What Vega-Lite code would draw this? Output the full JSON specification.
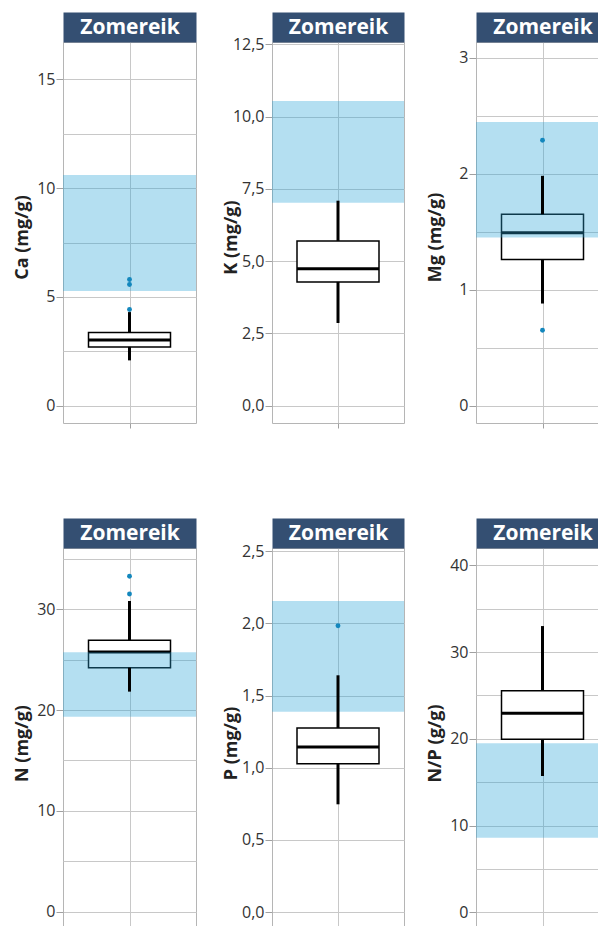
{
  "$schema": "https://vega.github.io/schema/vega-lite/v6.json",
  "background": "#ffffff",
  "padding": {"left": 12, "top": 15, "right": 0, "bottom": 0},
  "config": {
    "font": "Open Sans",
    "view": {"stroke": "#b5b5b5", "strokeWidth": 1},
    "axis": {
      "labelFont": "Open Sans", "labelFontSize": 16, "labelColor": "#333333",
      "titleFont": "Open Sans", "titleFontSize": 18, "titleFontWeight": "bold", "titleColor": "#222222",
      "gridColor": "#c8c8c8", "gridWidth": 1, "tickColor": "#a0a0a0", "domain": false
    },
    "axisY": {"tickSize": 7, "labelPadding": 1, "titleX": -41, "titleY": 195, "titleBaseline": "middle", "titleAlign": "center", "titleAngle": 270}
  },
  "datasets": {
    "stats": [
      {"el": "Ca", "species": "Zomereik", "lower": 2.08, "q1": 2.70, "median": 3.02, "q3": 3.36, "upper": 4.30, "lo": 5.27, "hi": 10.60},
      {"el": "K", "species": "Zomereik", "lower": 2.86, "q1": 4.28, "median": 4.74, "q3": 5.70, "upper": 7.09, "lo": 7.02, "hi": 10.54},
      {"el": "Mg", "species": "Zomereik", "lower": 0.881, "q1": 1.261, "median": 1.491, "q3": 1.652, "upper": 1.983, "lo": 1.451, "hi": 2.447},
      {"el": "N", "species": "Zomereik", "lower": 21.83, "q1": 24.21, "median": 25.76, "q3": 26.92, "upper": 30.82, "lo": 19.35, "hi": 25.73},
      {"el": "P", "species": "Zomereik", "lower": 0.747, "q1": 1.028, "median": 1.144, "q3": 1.275, "upper": 1.640, "lo": 1.388, "hi": 2.154},
      {"el": "NP", "species": "Zomereik", "lower": 15.71, "q1": 19.94, "median": 22.94, "q3": 25.55, "upper": 33.0, "lo": 8.60, "hi": 19.48}
    ],
    "outliers": [
      {"el": "Ca", "species": "Zomereik", "value": 4.42},
      {"el": "Ca", "species": "Zomereik", "value": 5.57},
      {"el": "Ca", "species": "Zomereik", "value": 5.80},
      {"el": "Mg", "species": "Zomereik", "value": 2.29},
      {"el": "Mg", "species": "Zomereik", "value": 0.65},
      {"el": "N", "species": "Zomereik", "value": 33.27},
      {"el": "N", "species": "Zomereik", "value": 31.52},
      {"el": "P", "species": "Zomereik", "value": 1.983}
    ]
  },
  "vconcat": [
    {
      "hconcat": [
        {
          "hconcat": [
            {"width": 133, "height": 381, "resolve": {"axis": {"x": "independent"}},
             "layer": [
               {"data": {"name": "stats"}, "transform": [{"filter": "datum.el === 'Ca'"}],
                "mark": {"type": "bar", "size": 82, "fill": "#ffffff", "stroke": "#000000", "strokeWidth": 1.5},
                "encoding": {
                  "x": {"field": "species", "type": "nominal", "scale": {"type": "point"}, "axis": {"orient": "bottom", "title": null, "labels": false, "tickSize": 5, "grid": true}},
                  "y": {"field": "q1", "type": "quantitative", "scale": {"domain": [-0.8, 16.72], "nice": false, "zero": false},
                        "axis": {"title": "Ca (mg/g)", "values": [0, 2.5, 5, 7.5, 10, 12.5, 15], "labelExpr": "datum.value % 5 === 0 ? format(datum.value, 'd') : ''", "tickOpacity": {"condition": {"test": "datum.value % 5 === 0", "value": 1}, "value": 0}}},
                  "y2": {"field": "q3"}}},
               {"data": {"name": "stats"}, "transform": [{"filter": "datum.el === 'Ca'"}],
                "mark": {"type": "tick", "size": 82, "thickness": 3, "color": "#000000", "opacity": 1},
                "encoding": {"x": {"field": "species", "type": "nominal", "axis": null}, "y": {"field": "median", "type": "quantitative", "title": "Ca (mg/g)"}}},
               {"data": {"name": "stats"}, "transform": [{"filter": "datum.el === 'Ca'"}],
                "mark": {"type": "rect", "fill": "#29a3d6", "opacity": 0.35},
                "encoding": {"y": {"field": "lo", "type": "quantitative", "title": "Ca (mg/g)"}, "y2": {"field": "hi"}}},
               {"data": {"name": "stats"}, "transform": [{"filter": "datum.el === 'Ca'"}],
                "mark": {"type": "rule", "strokeWidth": 3, "color": "#000000"},
                "encoding": {"x": {"field": "species", "type": "nominal", "axis": {"orient": "top", "labels": false, "ticks": false, "grid": false, "domain": true, "domainColor": "#344f72", "domainWidth": 30, "domainCap": "butt", "offset": 15, "title": "Zomereik", "titleFont": "Open Sans", "titleFontSize": 21, "titleFontWeight": "bold", "titleColor": "#ffffff", "titleY": 0, "titleBaseline": "middle", "titleAngle": 0, "titleAlign": "center"}},
                             "y": {"field": "lower", "type": "quantitative", "title": "Ca (mg/g)"}, "y2": {"field": "q1"}}},
               {"data": {"name": "stats"}, "transform": [{"filter": "datum.el === 'Ca'"}],
                "mark": {"type": "rule", "strokeWidth": 3, "color": "#000000"},
                "encoding": {"x": {"field": "species", "type": "nominal", "axis": null}, "y": {"field": "q3", "type": "quantitative", "title": "Ca (mg/g)"}, "y2": {"field": "upper"}}},
               {"data": {"name": "outliers"}, "transform": [{"filter": "datum.el === 'Ca'"}],
                "mark": {"type": "circle", "size": 24, "color": "#1387bd", "opacity": 1},
                "encoding": {"x": {"field": "species", "type": "nominal", "axis": null}, "y": {"field": "value", "type": "quantitative", "title": "Ca (mg/g)"}}}
             ]},
            {"width": 132, "height": 381, "resolve": {"axis": {"x": "independent"}},
             "layer": [
               {"data": {"name": "stats"}, "transform": [{"filter": "datum.el === 'K'"}],
                "mark": {"type": "bar", "size": 82, "fill": "#ffffff", "stroke": "#000000", "strokeWidth": 1.5},
                "encoding": {
                  "x": {"field": "species", "type": "nominal", "scale": {"type": "point"}, "axis": {"orient": "bottom", "title": null, "labels": false, "tickSize": 5, "grid": true}},
                  "y": {"field": "q1", "type": "quantitative", "scale": {"domain": [-0.6, 12.58], "nice": false, "zero": false},
                        "axis": {"title": "K (mg/g)", "values": [0, 1.25, 2.5, 3.75, 5, 6.25, 7.5, 8.75, 10, 11.25, 12.5], "labelExpr": "datum.value % 2.5 === 0 ? replace(format(datum.value, '.1f'), '.', ',') : ''", "tickOpacity": {"condition": {"test": "datum.value % 2.5 === 0", "value": 1}, "value": 0}}},
                  "y2": {"field": "q3"}}},
               {"data": {"name": "stats"}, "transform": [{"filter": "datum.el === 'K'"}],
                "mark": {"type": "tick", "size": 82, "thickness": 3, "color": "#000000", "opacity": 1},
                "encoding": {"x": {"field": "species", "type": "nominal", "axis": null}, "y": {"field": "median", "type": "quantitative", "title": "K (mg/g)"}}},
               {"data": {"name": "stats"}, "transform": [{"filter": "datum.el === 'K'"}],
                "mark": {"type": "rect", "fill": "#29a3d6", "opacity": 0.35},
                "encoding": {"y": {"field": "lo", "type": "quantitative", "title": "K (mg/g)"}, "y2": {"field": "hi"}}},
               {"data": {"name": "stats"}, "transform": [{"filter": "datum.el === 'K'"}],
                "mark": {"type": "rule", "strokeWidth": 3, "color": "#000000"},
                "encoding": {"x": {"field": "species", "type": "nominal", "axis": {"orient": "top", "labels": false, "ticks": false, "grid": false, "domain": true, "domainColor": "#344f72", "domainWidth": 30, "domainCap": "butt", "offset": 15, "title": "Zomereik", "titleFont": "Open Sans", "titleFontSize": 21, "titleFontWeight": "bold", "titleColor": "#ffffff", "titleY": 0, "titleBaseline": "middle", "titleAngle": 0, "titleAlign": "center"}},
                             "y": {"field": "lower", "type": "quantitative", "title": "K (mg/g)"}, "y2": {"field": "q1"}}},
               {"data": {"name": "stats"}, "transform": [{"filter": "datum.el === 'K'"}],
                "mark": {"type": "rule", "strokeWidth": 3, "color": "#000000"},
                "encoding": {"x": {"field": "species", "type": "nominal", "axis": null}, "y": {"field": "q3", "type": "quantitative", "title": "K (mg/g)"}, "y2": {"field": "upper"}}}
             ]}
          ],
          "spacing": 24
        },
        {"width": 133, "height": 381, "resolve": {"axis": {"x": "independent"}},
         "layer": [
           {"data": {"name": "stats"}, "transform": [{"filter": "datum.el === 'Mg'"}],
            "mark": {"type": "bar", "size": 82, "fill": "#ffffff", "stroke": "#000000", "strokeWidth": 1.5},
            "encoding": {
              "x": {"field": "species", "type": "nominal", "scale": {"type": "point"}, "axis": {"orient": "bottom", "title": null, "labels": false, "tickSize": 5, "grid": true}},
              "y": {"field": "q1", "type": "quantitative", "scale": {"domain": [-0.15, 3.138], "nice": false, "zero": false},
                    "axis": {"title": "Mg (mg/g)", "values": [0, 0.5, 1, 1.5, 2, 2.5, 3], "labelExpr": "datum.value % 1 === 0 ? format(datum.value, 'd') : ''", "tickOpacity": {"condition": {"test": "datum.value % 1 === 0", "value": 1}, "value": 0}}},
              "y2": {"field": "q3"}}},
           {"data": {"name": "stats"}, "transform": [{"filter": "datum.el === 'Mg'"}],
            "mark": {"type": "tick", "size": 82, "thickness": 3, "color": "#000000", "opacity": 1},
            "encoding": {"x": {"field": "species", "type": "nominal", "axis": null}, "y": {"field": "median", "type": "quantitative", "title": "Mg (mg/g)"}}},
           {"data": {"name": "stats"}, "transform": [{"filter": "datum.el === 'Mg'"}],
            "mark": {"type": "rect", "fill": "#29a3d6", "opacity": 0.35},
            "encoding": {"y": {"field": "lo", "type": "quantitative", "title": "Mg (mg/g)"}, "y2": {"field": "hi"}}},
           {"data": {"name": "stats"}, "transform": [{"filter": "datum.el === 'Mg'"}],
            "mark": {"type": "rule", "strokeWidth": 3, "color": "#000000"},
            "encoding": {"x": {"field": "species", "type": "nominal", "axis": {"orient": "top", "labels": false, "ticks": false, "grid": false, "domain": true, "domainColor": "#344f72", "domainWidth": 30, "domainCap": "butt", "offset": 15, "title": "Zomereik", "titleFont": "Open Sans", "titleFontSize": 21, "titleFontWeight": "bold", "titleColor": "#ffffff", "titleY": 0, "titleBaseline": "middle", "titleAngle": 0, "titleAlign": "center"}},
                         "y": {"field": "lower", "type": "quantitative", "title": "Mg (mg/g)"}, "y2": {"field": "q1"}}},
           {"data": {"name": "stats"}, "transform": [{"filter": "datum.el === 'Mg'"}],
            "mark": {"type": "rule", "strokeWidth": 3, "color": "#000000"},
            "encoding": {"x": {"field": "species", "type": "nominal", "axis": null}, "y": {"field": "q3", "type": "quantitative", "title": "Mg (mg/g)"}, "y2": {"field": "upper"}}},
           {"data": {"name": "outliers"}, "transform": [{"filter": "datum.el === 'Mg'"}],
            "mark": {"type": "circle", "size": 24, "color": "#1387bd", "opacity": 1},
            "encoding": {"x": {"field": "species", "type": "nominal", "axis": null}, "y": {"field": "value", "type": "quantitative", "title": "Mg (mg/g)"}}}
         ]}
      ],
      "spacing": 20
    },
    {
      "hconcat": [
        {
          "hconcat": [
            {"width": 133, "height": 381, "resolve": {"axis": {"x": "independent"}},
             "layer": [
               {"data": {"name": "stats"}, "transform": [{"filter": "datum.el === 'N'"}],
                "mark": {"type": "bar", "size": 82, "fill": "#ffffff", "stroke": "#000000", "strokeWidth": 1.5},
                "encoding": {
                  "x": {"field": "species", "type": "nominal", "scale": {"type": "point"}, "axis": {"orient": "bottom", "title": null, "labels": false, "tickSize": 5, "grid": true}},
                  "y": {"field": "q1", "type": "quantitative", "scale": {"domain": [-1.72, 36.08], "nice": false, "zero": false},
                        "axis": {"title": "N (mg/g)", "values": [0, 5, 10, 15, 20, 25, 30, 35], "labelExpr": "datum.value % 10 === 0 ? format(datum.value, 'd') : ''", "tickOpacity": {"condition": {"test": "datum.value % 10 === 0", "value": 1}, "value": 0}}},
                  "y2": {"field": "q3"}}},
               {"data": {"name": "stats"}, "transform": [{"filter": "datum.el === 'N'"}],
                "mark": {"type": "tick", "size": 82, "thickness": 3, "color": "#000000", "opacity": 1},
                "encoding": {"x": {"field": "species", "type": "nominal", "axis": null}, "y": {"field": "median", "type": "quantitative", "title": "N (mg/g)"}}},
               {"data": {"name": "stats"}, "transform": [{"filter": "datum.el === 'N'"}],
                "mark": {"type": "rect", "fill": "#29a3d6", "opacity": 0.35},
                "encoding": {"y": {"field": "lo", "type": "quantitative", "title": "N (mg/g)"}, "y2": {"field": "hi"}}},
               {"data": {"name": "stats"}, "transform": [{"filter": "datum.el === 'N'"}],
                "mark": {"type": "rule", "strokeWidth": 3, "color": "#000000"},
                "encoding": {"x": {"field": "species", "type": "nominal", "axis": {"orient": "top", "labels": false, "ticks": false, "grid": false, "domain": true, "domainColor": "#344f72", "domainWidth": 30, "domainCap": "butt", "offset": 15, "title": "Zomereik", "titleFont": "Open Sans", "titleFontSize": 21, "titleFontWeight": "bold", "titleColor": "#ffffff", "titleY": 0, "titleBaseline": "middle", "titleAngle": 0, "titleAlign": "center"}},
                             "y": {"field": "lower", "type": "quantitative", "title": "N (mg/g)"}, "y2": {"field": "q1"}}},
               {"data": {"name": "stats"}, "transform": [{"filter": "datum.el === 'N'"}],
                "mark": {"type": "rule", "strokeWidth": 3, "color": "#000000"},
                "encoding": {"x": {"field": "species", "type": "nominal", "axis": null}, "y": {"field": "q3", "type": "quantitative", "title": "N (mg/g)"}, "y2": {"field": "upper"}}},
               {"data": {"name": "outliers"}, "transform": [{"filter": "datum.el === 'N'"}],
                "mark": {"type": "circle", "size": 24, "color": "#1387bd", "opacity": 1},
                "encoding": {"x": {"field": "species", "type": "nominal", "axis": null}, "y": {"field": "value", "type": "quantitative", "title": "N (mg/g)"}}}
             ]},
            {"width": 132, "height": 381, "resolve": {"axis": {"x": "independent"}},
             "layer": [
               {"data": {"name": "stats"}, "transform": [{"filter": "datum.el === 'P'"}],
                "mark": {"type": "bar", "size": 82, "fill": "#ffffff", "stroke": "#000000", "strokeWidth": 1.5},
                "encoding": {
                  "x": {"field": "species", "type": "nominal", "scale": {"type": "point"}, "axis": {"orient": "bottom", "title": null, "labels": false, "tickSize": 5, "grid": true}},
                  "y": {"field": "q1", "type": "quantitative", "scale": {"domain": [-0.116, 2.521], "nice": false, "zero": false},
                        "axis": {"title": "P (mg/g)", "values": [0, 0.25, 0.5, 0.75, 1, 1.25, 1.5, 1.75, 2, 2.25, 2.5], "labelExpr": "datum.value % 0.5 === 0 ? replace(format(datum.value, '.1f'), '.', ',') : ''", "tickOpacity": {"condition": {"test": "datum.value % 0.5 === 0", "value": 1}, "value": 0}}},
                  "y2": {"field": "q3"}}},
               {"data": {"name": "stats"}, "transform": [{"filter": "datum.el === 'P'"}],
                "mark": {"type": "tick", "size": 82, "thickness": 3, "color": "#000000", "opacity": 1},
                "encoding": {"x": {"field": "species", "type": "nominal", "axis": null}, "y": {"field": "median", "type": "quantitative", "title": "P (mg/g)"}}},
               {"data": {"name": "stats"}, "transform": [{"filter": "datum.el === 'P'"}],
                "mark": {"type": "rect", "fill": "#29a3d6", "opacity": 0.35},
                "encoding": {"y": {"field": "lo", "type": "quantitative", "title": "P (mg/g)"}, "y2": {"field": "hi"}}},
               {"data": {"name": "stats"}, "transform": [{"filter": "datum.el === 'P'"}],
                "mark": {"type": "rule", "strokeWidth": 3, "color": "#000000"},
                "encoding": {"x": {"field": "species", "type": "nominal", "axis": {"orient": "top", "labels": false, "ticks": false, "grid": false, "domain": true, "domainColor": "#344f72", "domainWidth": 30, "domainCap": "butt", "offset": 15, "title": "Zomereik", "titleFont": "Open Sans", "titleFontSize": 21, "titleFontWeight": "bold", "titleColor": "#ffffff", "titleY": 0, "titleBaseline": "middle", "titleAngle": 0, "titleAlign": "center"}},
                             "y": {"field": "lower", "type": "quantitative", "title": "P (mg/g)"}, "y2": {"field": "q1"}}},
               {"data": {"name": "stats"}, "transform": [{"filter": "datum.el === 'P'"}],
                "mark": {"type": "rule", "strokeWidth": 3, "color": "#000000"},
                "encoding": {"x": {"field": "species", "type": "nominal", "axis": null}, "y": {"field": "q3", "type": "quantitative", "title": "P (mg/g)"}, "y2": {"field": "upper"}}},
               {"data": {"name": "outliers"}, "transform": [{"filter": "datum.el === 'P'"}],
                "mark": {"type": "circle", "size": 24, "color": "#1387bd", "opacity": 1},
                "encoding": {"x": {"field": "species", "type": "nominal", "axis": null}, "y": {"field": "value", "type": "quantitative", "title": "P (mg/g)"}}}
             ]}
          ],
          "spacing": 24
        },
        {"width": 133, "height": 381, "resolve": {"axis": {"x": "independent"}},
         "layer": [
           {"data": {"name": "stats"}, "transform": [{"filter": "datum.el === 'NP'"}],
            "mark": {"type": "bar", "size": 82, "fill": "#ffffff", "stroke": "#000000", "strokeWidth": 1.5},
            "encoding": {
              "x": {"field": "species", "type": "nominal", "scale": {"type": "point"}, "axis": {"orient": "bottom", "title": null, "labels": false, "tickSize": 5, "grid": true}},
              "y": {"field": "q1", "type": "quantitative", "scale": {"domain": [-1.93, 42.0], "nice": false, "zero": false},
                    "axis": {"title": "N/P (g/g)", "values": [0, 5, 10, 15, 20, 25, 30, 35, 40], "labelExpr": "datum.value % 10 === 0 ? format(datum.value, 'd') : ''", "tickOpacity": {"condition": {"test": "datum.value % 10 === 0", "value": 1}, "value": 0}}},
              "y2": {"field": "q3"}}},
           {"data": {"name": "stats"}, "transform": [{"filter": "datum.el === 'NP'"}],
            "mark": {"type": "tick", "size": 82, "thickness": 3, "color": "#000000", "opacity": 1},
            "encoding": {"x": {"field": "species", "type": "nominal", "axis": null}, "y": {"field": "median", "type": "quantitative", "title": "N/P (g/g)"}}},
           {"data": {"name": "stats"}, "transform": [{"filter": "datum.el === 'NP'"}],
            "mark": {"type": "rect", "fill": "#29a3d6", "opacity": 0.35},
            "encoding": {"y": {"field": "lo", "type": "quantitative", "title": "N/P (g/g)"}, "y2": {"field": "hi"}}},
           {"data": {"name": "stats"}, "transform": [{"filter": "datum.el === 'NP'"}],
            "mark": {"type": "rule", "strokeWidth": 3, "color": "#000000"},
            "encoding": {"x": {"field": "species", "type": "nominal", "axis": {"orient": "top", "labels": false, "ticks": false, "grid": false, "domain": true, "domainColor": "#344f72", "domainWidth": 30, "domainCap": "butt", "offset": 15, "title": "Zomereik", "titleFont": "Open Sans", "titleFontSize": 21, "titleFontWeight": "bold", "titleColor": "#ffffff", "titleY": 0, "titleBaseline": "middle", "titleAngle": 0, "titleAlign": "center"}},
                         "y": {"field": "lower", "type": "quantitative", "title": "N/P (g/g)"}, "y2": {"field": "q1"}}},
           {"data": {"name": "stats"}, "transform": [{"filter": "datum.el === 'NP'"}],
            "mark": {"type": "rule", "strokeWidth": 3, "color": "#000000"},
            "encoding": {"x": {"field": "species", "type": "nominal", "axis": null}, "y": {"field": "q3", "type": "quantitative", "title": "N/P (g/g)"}, "y2": {"field": "upper"}}}
         ]}
      ],
      "spacing": 20
    }
  ],
  "spacing": 92
}
